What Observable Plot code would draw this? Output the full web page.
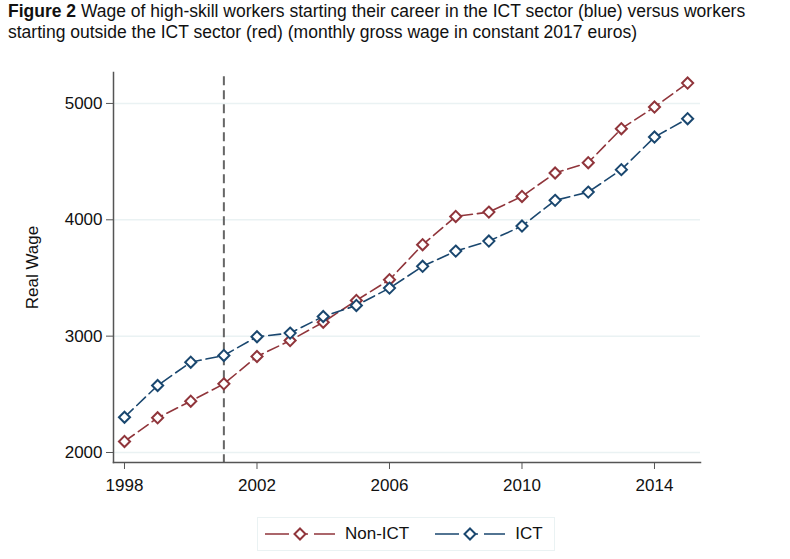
<!DOCTYPE html>
<html><head><meta charset="utf-8">
<script src="https://cdn.jsdelivr.net/npm/d3@7"></script>
<script src="https://cdn.jsdelivr.net/npm/@observablehq/plot@0.6"></script>
<style>
html,body{margin:0;padding:0;background:#fff;}
body{font-family:"Liberation Sans",Arial,sans-serif;color:#111;width:790px;height:559px;position:relative;overflow:hidden;}
#title{height:50px;box-sizing:border-box;padding:1px 0 0 8px;font-size:17.5px;line-height:21px;white-space:nowrap;}
#chart svg{display:block;}
#legend{position:absolute;left:257px;top:517px;width:298px;height:34px;box-sizing:border-box;border:1px solid #eaf2f3;display:flex;align-items:center;font-size:17px;}
#legend .item{display:flex;align-items:center;}
#legend svg{display:block;}
</style>
</head><body>
<div id="title"><b>Figure 2</b> Wage of high-skill workers starting their career in the ICT sector (blue) versus workers<br>starting outside the ICT sector (red) (monthly gross wage in constant 2017 euros)</div>
<div id="chart"></div>
<div id="legend"></div>
<script>
const years = [1998,1999,2000,2001,2002,2003,2004,2005,2006,2007,2008,2009,2010,2011,2012,2013,2014,2015];
const nonIct = [2095,2298,2441,2590,2825,2962,3120,3307,3485,3786,4029,4066,4201,4402,4491,4783,4969,5175];
const ict    = [2303,2576,2776,2834,2995,3026,3169,3264,3413,3600,3731,3817,3946,4167,4238,4431,4711,4869];
const seriesNames = ["Non-ICT","ICT"];
const seriesColors = ["#90353B","#1A476F"];
const yTicks = [2000,3000,4000,5000];
const xTicks = [1998,2002,2006,2010,2014];
const eventYear = [2001];

const rows = [];
years.forEach((y,i)=>{
  rows.push({year:y, wage:nonIct[i], series:"Non-ICT"});
  rows.push({year:y, wage:ict[i], series:"ICT"});
});
const colorOf = s => seriesColors[seriesNames.indexOf(s)];

const plot = Plot.plot({
  width: 790,
  height: 459,
  marginTop: 22,
  marginBottom: 47,
  marginLeft: 113,
  marginRight: 90,
  style: {fontFamily:'"Liberation Sans",Arial,sans-serif', color:"#111", background:"#fff"},
  x: {domain:[1997.668, 2015.389]},
  y: {domain:[1914, 5266]},
  marks: [
    Plot.gridY(yTicks, {stroke:"#eaf2f3", strokeOpacity:1, strokeWidth:1.5}),
    Plot.ruleX(eventYear, {stroke:"#666", strokeWidth:2, strokeDasharray:"9,5", y1:5230, y2:1914}),
    ...seriesNames.map(s => Plot.lineY(rows.filter(d=>d.series===s), {x:"year", y:"wage", stroke:colorOf(s), strokeWidth:1.6, strokeDasharray:"12,5"})),
    ...seriesNames.map(s => Plot.dot(rows.filter(d=>d.series===s), {x:"year", y:"wage", symbol:"diamond2", r:5, fill:"white", stroke:colorOf(s), strokeWidth:2})),
    Plot.frame({anchor:"left", stroke:"#555", strokeWidth:1.5}),
    Plot.frame({anchor:"bottom", stroke:"#555", strokeWidth:1.5}),
    Plot.axisY(yTicks, {tickSize:7, tickPadding:4, fontSize:17, stroke:"#555", label:"Real Wage", labelArrow:"none", labelAnchor:"center", labelOffset:88, tickFormat:d=>String(d)}),
    Plot.axisX(xTicks, {tickSize:7, tickPadding:9, fontSize:17, stroke:"#555", label:null, tickFormat:d=>String(d)})
  ]
});
document.getElementById("chart").appendChild(plot);

// legend
const leg = document.getElementById("legend");
seriesNames.forEach((s,i)=>{
  const item = document.createElement("div");
  item.className = "item";
  item.style.marginLeft = i===0 ? "7px" : "26px";
  const c = colorOf(s);
  item.innerHTML = `<svg width="70" height="20"><line x1="0" y1="10" x2="70" y2="10" stroke="${c}" stroke-width="1.6" stroke-dasharray="24,3,0,3,13,6,21"/><path d="M35,4.5L40.5,10L35,15.5L29.5,10Z" fill="white" stroke="${c}" stroke-width="2"/></svg><span style="margin-left:10px">${s}</span>`;
  leg.appendChild(item);
});
</script>
</body></html>
